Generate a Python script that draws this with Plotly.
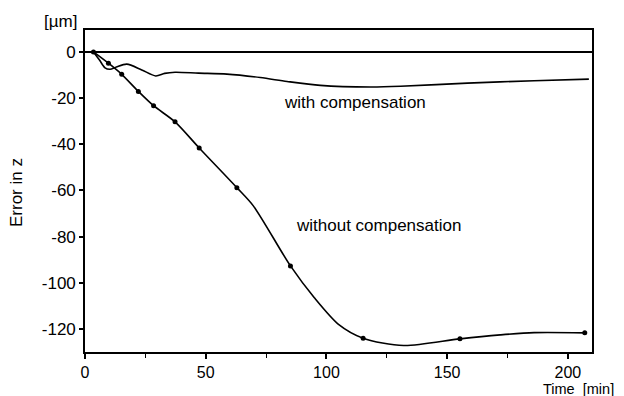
import plotly.graph_objects as go

# "without compensation": measured points (markers) and read curve path
t_without_pts = [3.5, 9.7, 15.2, 22.1, 28.4, 37.3, 47.3, 62.9, 85.1, 115.2, 155.3, 207.0]
e_without_pts = [0, -4.9, -9.7, -17.1, -23.3, -30.3, -41.6, -58.8, -92.7, -124.0, -124.3, -121.7]

t_without_line = [3.5, 9.7, 15.2, 22.1, 28.4, 37.3, 47.3, 62.9, 69.8, 85.1, 95.0, 105.0, 115.2, 132.0, 155.3, 172.0, 186.0, 207.0]
e_without_line = [0, -4.9, -9.7, -17.1, -23.3, -30.3, -41.6, -58.8, -66.8, -92.7, -106.5, -118.0, -124.0, -127.2, -124.3, -122.6, -121.6, -121.7]

# "with compensation": read curve path
t_with = [3.5, 6.0, 8.3, 10.4, 13.0, 17.3, 23.5, 29.3, 33.0, 37.3, 47.0, 58.8, 72.6, 83.7, 97.5, 118.3, 130.7, 158.4, 186.0, 208.7]
e_with = [0, -3.5, -6.9, -7.5, -6.5, -5.3, -7.8, -10.4, -9.3, -8.8, -9.2, -9.6, -11.1, -12.8, -14.5, -15.2, -14.9, -13.5, -12.5, -11.8]

x_ticks = [0, 50, 100, 150, 200]
x_labels = ["0", "50", "100", "150", "200"]
y_ticks = [0, -20, -40, -60, -80, -100, -120]
y_labels = ["0", "-20", "-40", "-60", "-80", "-100", "-120"]

FONT = "Liberation Sans, Arial, sans-serif"

fig = go.Figure()
fig.add_trace(go.Scatter(x=t_with, y=e_with, mode="lines",
                         line=dict(color="black", width=1.6, shape="spline", smoothing=0.8),
                         showlegend=False, hoverinfo="skip"))
fig.add_trace(go.Scatter(x=t_without_line, y=e_without_line, mode="lines",
                         line=dict(color="black", width=1.6, shape="spline", smoothing=0.8),
                         showlegend=False, hoverinfo="skip"))
fig.add_trace(go.Scatter(x=t_without_pts, y=e_without_pts, mode="markers",
                         marker=dict(color="black", size=5, symbol="circle"),
                         showlegend=False))

def note(text, x, y, ref="data", angle=0, size=17):
    fig.add_annotation(x=x, y=y, xref="x" if ref == "data" else "paper",
                       yref="y" if ref == "data" else "paper",
                       text=text, showarrow=False, textangle=angle,
                       xanchor="center", yanchor="middle",
                       font=dict(size=size, color="black", family=FONT))

note("with compensation", 112, -22)
note("without compensation", 121.5, -75)
note("[µm]", -0.049, 1.025, ref="paper")
note("Time  [min]", 0.973, -0.1134, ref="paper", size=14.5)
note("Error in z", -0.134, 0.494, ref="paper", angle=-90)

fig.update_layout(
    width=624, height=396,
    margin=dict(l=77, r=40, t=22, b=52),
    paper_bgcolor="white", plot_bgcolor="white",
    font=dict(family=FONT, size=17, color="black"),
    xaxis=dict(range=[0, 210], tickvals=x_ticks, ticktext=x_labels, ticks="outside", ticklen=5,
               tickwidth=1.5, tickcolor="black", showline=True, linecolor="black", linewidth=1.6,
               mirror=True, showgrid=False, zeroline=False,
               minor=dict(dtick=25, ticks="outside", ticklen=4, tickcolor="black", tickwidth=1.2),
               tickfont=dict(size=16)),
    yaxis=dict(range=[-130, 9.5], tickvals=y_ticks, ticktext=y_labels, ticks="outside", ticklen=4,
               tickwidth=1.5, tickcolor="black", showline=True, linecolor="black", linewidth=1.6,
               mirror=True, showgrid=False, zeroline=True, zerolinecolor="black", zerolinewidth=1.6,
               tickfont=dict(size=17)),
)

fig.write_html("out.html")
